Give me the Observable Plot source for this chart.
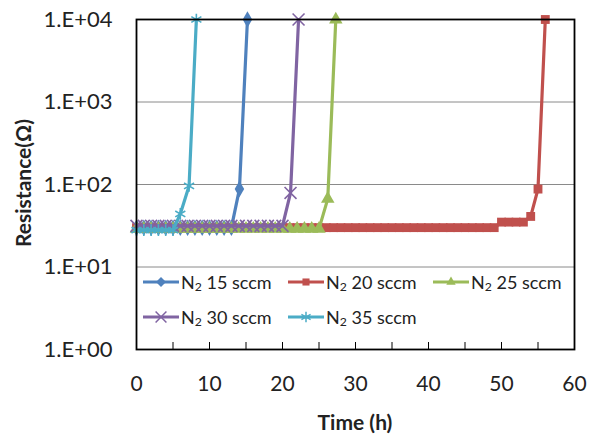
<!DOCTYPE html>
<html><head><meta charset="utf-8">
<script src="https://cdn.jsdelivr.net/npm/d3@7"></script>
<script src="https://cdn.jsdelivr.net/npm/@observablehq/plot@0.6"></script>
<style>
body{margin:0;background:#fff;}
#wrap{position:relative;width:591px;height:435px;font-family:Lato,"Noto Sans",sans-serif;color:#222;}
.t{position:absolute;font-weight:bold;font-size:21px;white-space:nowrap;transform:translate(-50%,-50%);}
.leg{position:absolute;height:22px;display:flex;align-items:center;font-size:18px;white-space:nowrap;color:#222;}
.leg svg{margin-right:2px;overflow:visible;}
sub{font-size:0.68em;vertical-align:-0.2em;line-height:0;}
</style></head><body><div id="wrap"></div>
<script>
// ---- data ----
const seriesLabels = ["15 sccm", "20 sccm", "25 sccm", "30 sccm", "35 sccm"];
const seriesColors = ["#4F81BD", "#C0504D", "#9BBB59", "#8064A2", "#4BACC6"];
const seriesSymbols = ["diamond", "square", "triangle", "times", "asterisk"];

const time15 = [0,1,2,3,4,5,6,7,8,9,10,11,12,13,14.1,15.2];
const res15  = [30,30,30,30,30,30,30,30,30,30,30,30,30,30,88,10000];

const time20 = [0,1,2,3,4,5,6,7,8,9,10,11,12,13,14,15,16,17,18,19,20,21,22,23,24,25,26,27,28,29,30,31,32,33,34,35,36,37,38,39,40,41,42,43,44,45,46,47,48,49,50,51,52,53,54,55,56];
const res20  = [30,30,30,30,30,30,30,30,30,30,30,30,30,30,30,30,30,30,30,30,30,30,30,30,30,30,30,30,30,30,30,30,30,30,30,30,30,30,30,30,30,30,30,30,30,30,30,30,30,30,35,35,35,35,41,88,10000];

const time25 = [0,1,2,3,4,5,6,7,8,9,10,11,12,13,14,15,16,17,18,19,20,21,22,23,24,25,26.2,27.3];
const res25  = [29,29,29,29,29,29,29,29,29,29,29,29,29,29,29,29,29,29,29,29,29,29,29,29,29,29,67,10000];

const time30 = [0,1,2,3,4,5,6,7,8,9,10,11,12,13,14,15,16,17,18,19,20,21.1,22.2];
const res30  = [31.5,31.5,31.5,31.5,31.5,31.5,31.5,31.5,31.5,31.5,31.5,31.5,31.5,31.5,31.5,31.5,31.5,31.5,31.5,31.5,31.5,79,10000];

const time35 = [0,1,2,3,4,5,6,7.2,8.2];
const res35  = [28,28,28,28,28,28,44,96,10000];

const xTicks = [0,10,20,30,40,50,60];
const xMinorTicks = [5,10,15,20,25,30,35,40,45,50,55];
const yTicks = [1,10,100,1000,10000];
const yGrid = [10,100,1000];
const yTickLabels = ["1.E+00","1.E+01","1.E+02","1.E+03","1.E+04"];

// ---- build ----
const times = [time15, time20, time25, time30, time35];
const values = [res15, res20, res25, res30, res35];
const data = [];
times.forEach((ts, s) => ts.forEach((t, i) => data.push({s, t, r: values[s][i]})));

const strokeSym = new Set(["times", "asterisk"]);
const marks = [
  Plot.ruleY(yGrid, {y: d => d, stroke: "#8a8a8a", strokeWidth: 1}),
  Plot.ruleX(xMinorTicks, {x: d => d, stroke: "#000", strokeWidth: 1, insetTop: 323}),
  Plot.axisY({ticks: yTicks, tickSize: 0, tickPadding: 24, fontSize: 22, label: null,
    tickFormat: d => yTickLabels[yTicks.indexOf(d)]}),
  Plot.axisX({ticks: xTicks, tickSize: 0, tickPadding: 27, fontSize: 21, label: null, tickFormat: d => String(d)})
];
seriesLabels.forEach((_, s) => {
  const sd = data.filter(d => d.s === s);
  marks.push(Plot.line(sd, {x: "t", y: "r", stroke: seriesColors[s], strokeWidth: 3.2}));
  const sym = seriesSymbols[s];
  marks.push(Plot.dot(sd, strokeSym.has(sym)
    ? {x: "t", y: "r", symbol: () => sym, stroke: seriesColors[s], strokeWidth: 1.6, fill: "none", r: 5.5}
    : {x: "t", y: "r", symbol: () => sym, fill: seriesColors[s], stroke: "none", r: 5}));
});
marks.push(Plot.frame({stroke: "#000", strokeWidth: 1.8}));

const chart = Plot.plot({
  width: 591, height: 435,
  marginLeft: 136, marginRight: 17, marginTop: 19, marginBottom: 86,
  style: {fontFamily: "Lato, 'Noto Sans', sans-serif", color: "#222", background: "#fff"},
  x: {domain: [0, 60]},
  y: {type: "log", domain: [1, 10000]},
  symbol: {type: "identity"},
  marks
});
const wrap = document.getElementById("wrap");
wrap.appendChild(chart);

// axis titles
const yt = document.createElement("div");
yt.className = "t"; yt.textContent = "Resistance(Ω)";
yt.style.left = "22px"; yt.style.top = "183px";
yt.style.transform = "translate(-50%,-50%) rotate(-90deg)";
wrap.appendChild(yt);
const xt = document.createElement("div");
xt.className = "t"; xt.textContent = "Time (h)";
xt.style.left = "355px"; xt.style.top = "421px";
wrap.appendChild(xt);

// legend (inside plot area)
const legLeft = [143, 288, 433, 143, 288];
const legTop = [282, 282, 282, 317, 317];
const d3Sym = {diamond: d3.symbolDiamond2, square: d3.symbolSquare2, triangle: d3.symbolTriangle2, times: d3.symbolTimes, asterisk: d3.symbolAsterisk};
seriesLabels.forEach((lab, s) => {
  const div = document.createElement("div");
  div.className = "leg";
  div.style.left = legLeft[s] + "px";
  div.style.top = (legTop[s] - 11) + "px";
  const sym = seriesSymbols[s];
  const r = strokeSym.has(sym) ? 5 : 4.5;
  const path = d3.symbol(d3Sym[sym], Math.PI * r * r)();
  const fillAttr = strokeSym.has(sym) ? `fill="none" stroke="${seriesColors[s]}" stroke-width="1.5"` : `fill="${seriesColors[s]}"`;
  div.innerHTML = `<svg width="36" height="14"><line x1="0" x2="36" y1="7" y2="7" stroke="${seriesColors[s]}" stroke-width="3"/><path transform="translate(18,7)" d="${path}" ${fillAttr}/></svg><span>N<sub>2</sub> ${lab}</span>`;
  wrap.appendChild(div);
});
</script></body></html>
